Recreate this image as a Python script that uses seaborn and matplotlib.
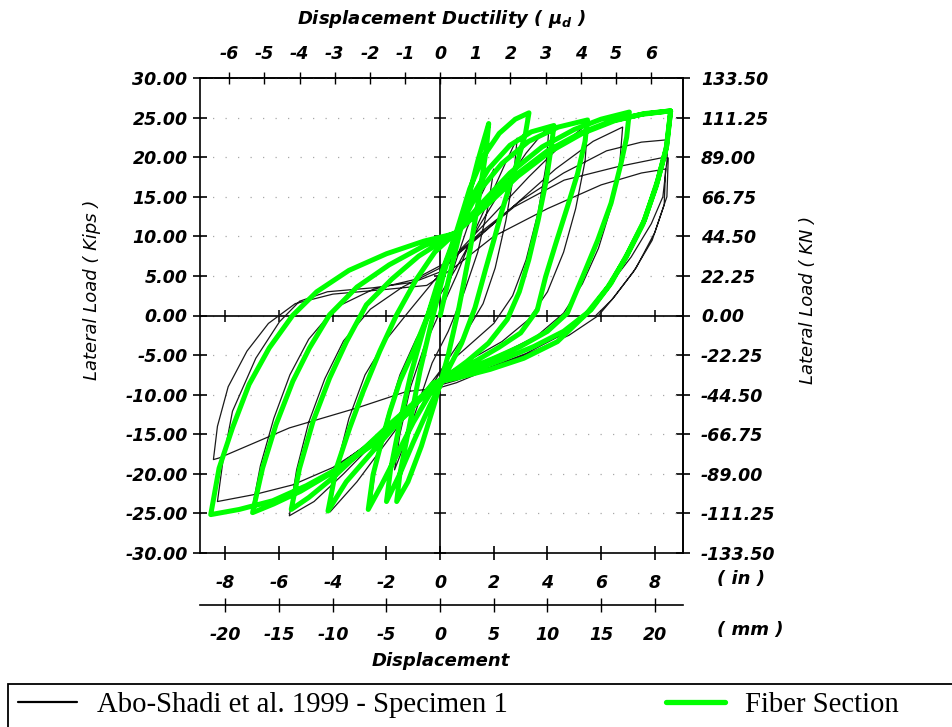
import numpy as np
import pandas as pd
import matplotlib
matplotlib.use("Agg")
import matplotlib.pyplot as plt
from matplotlib.lines import Line2D
from matplotlib.patches import Rectangle
import seaborn as sns

# ---------------- data ----------------
# Fiber Section model, displacement in inches, lateral load in kips
FIBER_X = [0, 0.45, 0.95, 1.4, 1.81,
           1.72, 1.45, 1.1, 0.7, 0.3, -0.2, -0.7, -1.2, -1.62,
           -1.5, -1.15, -0.75, -0.3, 0.15, 0.6, 1.1, 1.6, 2.2, 2.8, 3.31,
           3.18, 2.93, 2.62, 2.31, 2.0, 1.69, 1.3, 0.8, 0.2, -0.4, -1.0, -1.5, -2.0,
           -1.85, -1.5, -1.1, -0.6, -0.1, 0.5, 1.1, 1.8, 2.6, 3.4, 4.24,
           4.15, 3.95, 3.65, 3.3, 2.95, 2.5, 1.8, 1.0, 0.2, -0.4, -1.0, -1.6, -2.2, -2.68,
           -2.5, -2.18, -1.87, -1.5, -1.0, -0.4, 0.2, 0.7, 1.4, 2.3, 3.3, 4.4, 5.49,
           5.40, 5.12, 4.74, 4.31, 3.93, 3.62, 3.0, 2.2, 1.3, 0.4, -0.2, -0.9, -1.7, -2.6, -3.5, -4.18,
           -3.87, -3.37, -2.87, -2.25, -1.62, -0.9, -0.2, 0.6, 1.5, 2.6, 3.8, 5.0, 6.0, 7.05,
           6.95, 6.74, 6.37, 5.87, 5.31, 4.74, 4.0, 3.0, 2.0, 1.0, 0.0, -0.8, -1.8, -2.9, -4.0, -4.9, -5.55,
           -5.24, -4.74, -4.12, -3.49, -2.75, -1.8, -0.8, 0.6, 1.6, 2.8, 4.0, 5.2, 6.4, 7.5, 8.59,
           8.45, 8.11, 7.62, 6.99, 6.37, 5.62, 4.6, 3.5, 2.3, 1.2, 0.2, -0.6, -1.6, -2.8, -4.0, -5.2, -6.2, -6.99,
           -6.62, -6.12, -5.49, -4.87, -4.12, -3.1, -1.9, -0.6, 0.6, 1.7, 2.9, 4.1, 5.3, 6.5, 7.6, 8.59,
           8.42, 8.05, 7.55, 6.92, 6.25, 5.45, 4.37, 3.12, 1.87, 0.62, -0.25, -1.25, -2.5, -3.74, -4.99, -6.24, -7.49, -8.55,
           -8.24, -7.74, -7.12, -6.37, -5.5, -4.6, -3.4, -2.0, -0.6, 0.5]
FIBER_Y = [0, 6.5, 13.5, 19.5, 24.25,
           21, 15, 8, 1, -5, -11, -16.5, -21, -23.5,
           -20, -14, -7, -0.5, 5.5, 10.5, 16, 20, 23, 24.8, 25.6,
           23.0, 20.0, 16.7, 13.3, 9.5, 5.8, 1.0, -3.5, -7.5, -11.5, -16, -20, -23.5,
           -19.5, -13.5, -7.5, -1.5, 4.0, 9.5, 14.5, 18.5, 21.5, 23.2, 24.0,
           21.5, 17, 12, 7, 3, -0.5, -3.5, -5.8, -7.8, -10, -13.5, -17.5, -21.5, -24.5,
           -20.1, -15.9, -12.1, -8.3, -4.5, 0.5, 6.5, 11, 15.5, 19.2, 22, 23.8, 24.7,
           22, 17.9, 13.7, 9.1, 4.9, 0.7, -2.2, -4.0, -5.8, -7.3, -8.6, -11, -14, -17.5, -21, -24.7,
           -19.3, -14.2, -9.6, -4.5, 0.1, 4.5, 8, 10.5, 14, 18, 21.3, 23.5, 24.8, 25.7,
           22.5, 19.2, 14.2, 9.5, 4.9, 0.3, -2.0, -3.9, -5.4, -6.8, -8.2, -10.5, -13.5, -17, -20.5, -23, -24.5,
           -19.3, -13.4, -7.9, -3.3, 1.35, 4.6, 7.5, 10.5, 13.8, 17.7, 20.8, 23.0, 24.6, 25.4, 25.85,
           21.5, 17.1, 12.1, 7.86, 4.08, 0.7, -2.0, -3.9, -5.6, -6.9, -8.0, -10.2, -13.2, -16.8, -19.8, -22.2, -23.8, -24.9,
           -19.3, -13.8, -8.3, -4.1, 0.1, 3.6, 6.4, 8.8, 10.5, 13.8, 17.6, 20.7, 23.0, 24.6, 25.5, 25.85,
           21.0, 16.3, 11.5, 7.3, 3.6, 0.2, -3.3, -5.4, -6.8, -7.9, -8.5, -12.5, -16.3, -19.2, -21.5, -23.4, -24.5, -25.15,
           -19.3, -14.2, -8.7, -4.1, 0.0, 3.0, 5.7, 7.8, 9.4, 10.3]

# Abo-Shadi et al. 1999 - Specimen 1 (test), inches / kips
TEST_X = [0, 0.5, 1.0, 1.5, 2.0,
          1.8, 1.4, 0.9, 0.3, -0.3, -0.8, -1.3, -1.7,
          -1.5, -1.1, -0.6, 0.0, 0.6, 1.2, 1.8, 2.4, 2.87,
          2.75, 2.45, 2.05, 1.6, 0.9, 0.2, -0.5, -1.2, -1.9, -2.6,
          -2.4, -2.0, -1.5, -0.9, -0.2, 0.6, 1.4, 2.3, 3.2, 4.06,
          3.95, 3.65, 3.2, 2.7, 2.0, 1.0, 0.0, -0.9, -2.0, -3.1, -4.1,
          -3.85, -3.4, -2.8, -2.0, -1.1, -0.2, 0.8, 2.0, 3.3, 4.5, 5.5,
          5.4, 5.05, 4.6, 4.0, 3.3, 2.3, 1.0, 0.0, -1.0, -2.3, -3.6, -4.7, -5.62,
          -5.35, -4.9, -4.3, -3.6, -2.6, -1.4, 0.0, 1.3, 2.8, 4.3, 5.7, 6.8,
          6.7, 6.4, 5.9, 5.3, 4.6, 3.6, 2.3, 0.9, -0.1, -1.3, -2.6, -4.0, -5.2, -6.3, -7.0,
          -6.7, -6.2, -5.6, -4.9, -3.9, -2.5, -1.0, 0.4, 1.5, 3.0, 4.6, 6.2, 7.5, 8.49,
          8.45, 8.3, 7.87, 7.12, 6.37, 5.62, 4.5, 3.2, 1.8, 0.6, -0.12, -1.25, -2.5, -4.0, -5.5, -6.9, -8.3,
          -8.1, -7.74, -6.87, -5.99, -5.24, -4.2, -2.5, -1.0, 0.0, 0.87, 2.75, 4.62, 6.62, 8.37, 8.5,
          8.45, 8.0, 7.3, 6.5, 5.9, 4.8, 3.3, 1.8, 0.6, -0.1, -1.25, -3.12, -5.62, -8.24, -8.45,
          -8.3, -7.9, -7.2, -6.4, -5.4, -4.0, -2.0, -0.5, 0.5, 2.0, 4.0, 6.0, 7.5, 8.4,
          8.35, 7.9, 7.2, 6.4, 5.8]
TEST_Y = [0, 6, 11, 15, 18.5,
          14, 8, 3, -2, -6, -11, -16, -19.5,
          -15, -9, -4, 0.5, 5, 10, 14.5, 19, 22.4,
          18, 12, 6, 1.5, -2.5, -6, -10, -15, -20, -24.0,
          -19, -13, -7.5, -3, 1.5, 6, 11, 16, 20.5, 24.0,
          19, 13, 7, 2.5, -1, -4, -7, -11, -16, -21, -24.8,
          -19, -13, -7.5, -3, 0.8, 4.5, 8.5, 12.8, 17.5, 21.5, 24.2,
          19.5, 13.5, 8, 3, -0.5, -3.3, -5.8, -7.8, -11, -15.5, -20, -23.5, -25.3,
          -19.5, -13.5, -8, -3.2, 0.8, 3.6, 6, 9.5, 14, 18.5, 22, 23.8,
          19.5, 14, 8.5, 4, 0.3, -2.6, -4.8, -6.8, -8.8, -12, -15.9, -19.5, -22, -23.6, -24.3,
          -19, -13, -7.5, -3, 1, 3.3, 4.5, 7, 10.5, 14.5, 18, 20.8, 21.9, 22.2,
          19.5, 15, 11.6, 7.4, 4.1, 0.7, -2.5, -4.8, -6.6, -8.2, -8.9, -12.1, -15.9, -19.2, -21.4, -22.6, -23.5,
          -18.5, -12.1, -5.4, -0.8, 1.8, 3.0, 3.5, 4.2, 5.5, 8.5, 13.7, 17.1, 18.8, 20.0, 19.9,
          15, 10.5, 6, 2.4, 0, -2.5, -4.8, -6.8, -8.5, -9.2, -9.6, -11.7, -14.2, -18.0, -18.2,
          -14, -9, -4.5, -1, 1.5, 2.7, 3.3, 3.8, 6, 10, 13.5, 16.5, 18, 18.5,
          14, 9.5, 5.5, 2, 0]

LOAD_TICKS_KIPS = [-30, -25, -20, -15, -10, -5, 0, 5, 10, 15, 20, 25, 30]
KIPS_TO_KN = 4.45
DISP_TICKS_IN = [-8, -6, -4, -2, 0, 2, 4, 6, 8]
DISP_TICKS_MM = [-20, -15, -10, -5, 0, 5, 10, 15, 20]
MM_PER_AXIS_IN = 2.5
DUCTILITY_TICKS = [-6, -5, -4, -3, -2, -1, 0, 1, 2, 3, 4, 5, 6]
YIELD_DISP_IN = 1.31

LABEL_TEST = "Abo-Shadi et al. 1999 - Specimen 1"
LABEL_FIBER = "Fiber Section"

# ---------------- figure ----------------
sns.set_theme(style="white")
plt.rcParams["font.family"] = ["DejaVu Sans"]
plt.rcParams["text.color"] = "black"
plt.rcParams["xtick.color"] = "black"
plt.rcParams["ytick.color"] = "black"
plt.rcParams["axes.labelcolor"] = "black"

W, H = 952, 727
fig = plt.figure(figsize=(W / 100, H / 100), dpi=100)
ax = fig.add_axes([200 / W, 1 - 553 / H, 483 / W, 475 / H])

tick_font = dict(fontsize=12.5, fontweight="bold", fontstyle="italic", color="black")
name_font = dict(fontsize=13, fontweight="bold", fontstyle="italic", color="black")

test_df = pd.DataFrame({"x": TEST_X, "y": TEST_Y})
fiber_df = pd.DataFrame({"x": FIBER_X, "y": FIBER_Y})

ax.axhline(0, color="black", lw=1.2, zorder=1)
ax.axvline(0, color="black", lw=1.2, zorder=1)
ax.grid(axis="y", color="#a8a8a8", linestyle=(0, (1, 9)), lw=0.9)
# cross ticks on the two zero lines
ax.plot(DISP_TICKS_IN, [0] * len(DISP_TICKS_IN), linestyle="none", marker="|",
        ms=9, mew=1.1, color="black", zorder=1)
ax.plot([0] * len(LOAD_TICKS_KIPS), LOAD_TICKS_KIPS, linestyle="none", marker="_",
        ms=9, mew=1.1, color="black", zorder=1)

sns.lineplot(data=test_df, x="x", y="y", sort=False, estimator=None,
             color="#1a1a1a", lw=0.9, ax=ax, zorder=2)
sns.lineplot(data=fiber_df, x="x", y="y", sort=False, estimator=None,
             color="#00ff00", lw=3.6, ax=ax, zorder=3)

ax.set_xlim(-8.95, 9.05)
ax.set_ylim(-30, 30)
ax.set_xlabel("")
ax.set_ylabel("")

for s in ax.spines.values():
    s.set_color("black")
    s.set_linewidth(1.2)

ax.set_yticks(LOAD_TICKS_KIPS)
ax.set_yticklabels([f"{v:.2f}" for v in LOAD_TICKS_KIPS], **tick_font)
ax.set_xticks(DISP_TICKS_IN)
ax.set_xticklabels([f"{v}" for v in DISP_TICKS_IN], **tick_font)
ax.tick_params(axis="y", direction="inout", length=10, width=1.2, pad=4, left=True, color="black")
ax.tick_params(axis="x", direction="inout", length=10, width=1.2, pad=10, bottom=True, color="black")

# right axis: kN
sec_r = ax.secondary_yaxis("right", functions=(lambda k: k * KIPS_TO_KN, lambda n: n / KIPS_TO_KN))
kn_ticks = [v * KIPS_TO_KN for v in LOAD_TICKS_KIPS]
sec_r.set_yticks(kn_ticks)
sec_r.set_yticklabels([f"{v:.2f}" for v in kn_ticks], **tick_font)
sec_r.tick_params(direction="inout", length=10, width=1.2, pad=8, color="black")
sec_r.spines["right"].set_linewidth(1.2)
sec_r.spines["right"].set_color("black")

# top axis: displacement ductility
sec_t = ax.secondary_xaxis("top", functions=(lambda x: x / YIELD_DISP_IN, lambda m: m * YIELD_DISP_IN))
sec_t.set_xticks(DUCTILITY_TICKS)
sec_t.set_xticklabels([f"{v}" for v in DUCTILITY_TICKS], **tick_font)
sec_t.tick_params(direction="inout", length=9, width=1.0, pad=6, color="black")
sec_t.spines["top"].set_linewidth(1.2)
sec_t.spines["top"].set_color("black")

# bottom mm axis
sec_b = ax.secondary_xaxis(-52 / 475, functions=(lambda x: x * MM_PER_AXIS_IN, lambda m: m / MM_PER_AXIS_IN))
sec_b.set_xticks(DISP_TICKS_MM)
sec_b.set_xticklabels([f"{v}" for v in DISP_TICKS_MM], **tick_font)
sec_b.tick_params(direction="inout", length=10, width=1.0, pad=10, color="black")
sec_b.spines["bottom"].set_linewidth(1.2)
sec_b.spines["bottom"].set_color("black")

# axis texts
fig.text(441 / W, 1 - 19 / H, "Displacement Ductility ( $\\mathregular{\\mu_d}$ )",
         ha="center", va="center", **name_font)
fig.text(441 / W, 1 - 661 / H, "Displacement", ha="center", va="center", **name_font)
fig.text(741 / W, 1 - 579 / H, "( in )", ha="center", va="center", **name_font)
fig.text(750 / W, 1 - 630 / H, "( mm )", ha="center", va="center", **name_font)
fig.text(92 / W, 1 - 290 / H, "Lateral Load ( Kips )", rotation=90, ha="center", va="center",
         fontsize=13, fontstyle="italic", color="black")
fig.text(808 / W, 1 - 300 / H, "Lateral Load ( KN )", rotation=90, ha="center", va="center",
         fontsize=13, fontstyle="italic", color="black")

# legend box across the bottom
fig.patches.append(Rectangle((8 / W, -0.05), 1.0, 0.05 + 1 - 684 / H, transform=fig.transFigure,
                             fill=False, edgecolor="black", lw=1.3))
handles = [Line2D([], [], color="black", lw=1.6), Line2D([], [], color="#00ff00", lw=3.8)]
fig.legend(handles, [LABEL_TEST, LABEL_FIBER], loc="center left", bbox_to_anchor=(18 / W, 1 - 705 / H),
           ncol=2, frameon=False, borderpad=0, borderaxespad=0, handlelength=2.05, handletextpad=0.7,
           columnspacing=5.5, labelcolor="black",
           prop={"family": "Liberation Serif", "size": 20.7})

fig.savefig("out.png", dpi=100)
